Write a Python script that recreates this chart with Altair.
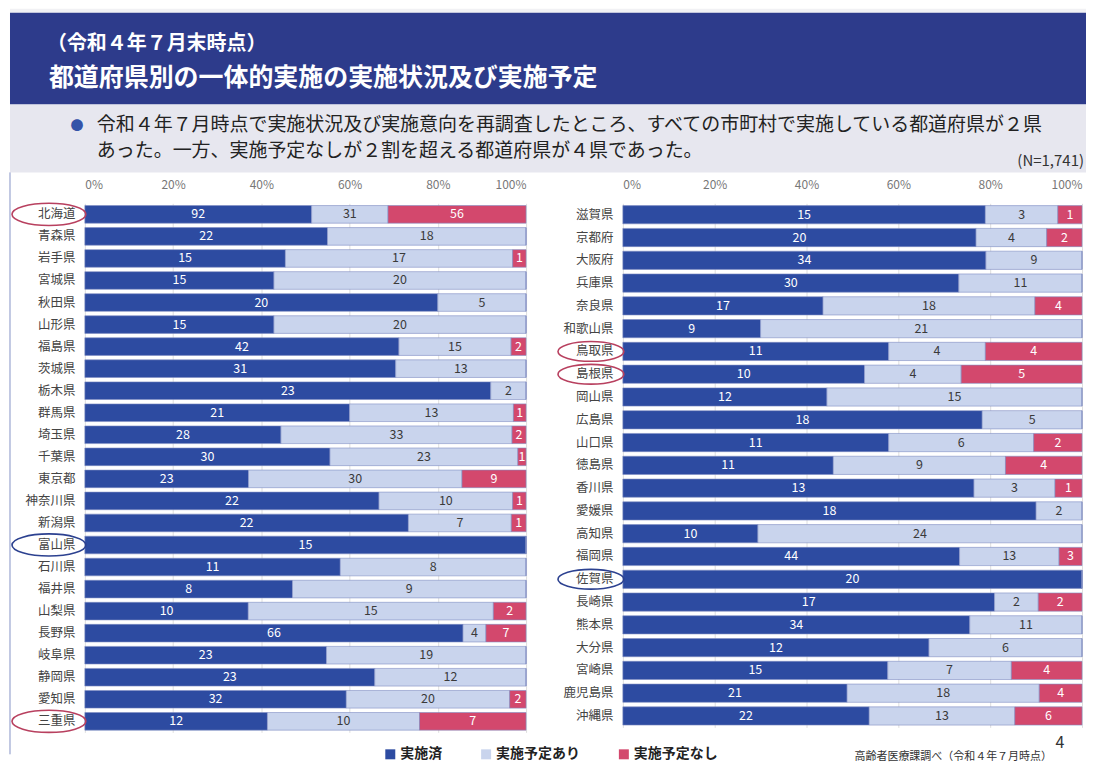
import altair as alt
import pandas as pd

FONT = "Noto Sans CJK JP"

cats = ["実施済", "実施予定あり", "実施予定なし"]
cat_colors = ["#2d4ba1", "#c9d4ed", "#d3486d"]

left_prefs = ["北海道", "青森県", "岩手県", "宮城県", "秋田県", "山形県", "福島県", "茨城県",
              "栃木県", "群馬県", "埼玉県", "千葉県", "東京都", "神奈川県", "新潟県", "富山県",
              "石川県", "福井県", "山梨県", "長野県", "岐阜県", "静岡県", "愛知県", "三重県"]
left_done = [92, 22, 15, 15, 20, 15, 42, 31, 23, 21, 28, 30, 23, 22, 22, 15, 11, 8, 10, 66, 23, 23, 32, 12]
left_plan = [31, 18, 17, 20, 5, 20, 15, 13, 2, 13, 33, 23, 30, 10, 7, 0, 8, 9, 15, 4, 19, 12, 20, 10]
left_none = [56, 0, 1, 0, 0, 0, 2, 0, 0, 1, 2, 1, 9, 1, 1, 0, 0, 0, 2, 7, 0, 0, 2, 7]

right_prefs = ["滋賀県", "京都府", "大阪府", "兵庫県", "奈良県", "和歌山県", "鳥取県", "島根県",
               "岡山県", "広島県", "山口県", "徳島県", "香川県", "愛媛県", "高知県", "福岡県",
               "佐賀県", "長崎県", "熊本県", "大分県", "宮崎県", "鹿児島県", "沖縄県"]
right_done = [15, 20, 34, 30, 17, 9, 11, 10, 12, 18, 11, 11, 13, 18, 10, 44, 20, 17, 34, 12, 15, 21, 22]
right_plan = [3, 4, 9, 11, 18, 21, 4, 4, 15, 5, 6, 9, 3, 2, 24, 13, 0, 2, 11, 6, 7, 18, 13]
right_none = [1, 2, 0, 0, 4, 0, 4, 5, 0, 0, 2, 4, 1, 0, 0, 3, 0, 2, 0, 0, 4, 4, 6]

left_rings = ["北海道", "富山県", "三重県"]
left_ring_kind = ["red", "blue", "red"]
right_rings = ["鳥取県", "島根県", "佐賀県"]
right_ring_kind = ["red", "red", "blue"]

title1 = "（令和４年７月末時点）"
title2 = "都道府県別の一体的実施の実施状況及び実施予定"
body1 = "令和４年７月時点で実施状況及び実施意向を再調査したところ、すべての市町村で実施している都道府県が２県"
body2 = "あった。一方、実施予定なしが２割を超える都道府県が４県であった。"
n_text = "(N=1,741)"
source_text = "高齢者医療課調べ（令和４年７月時点）"
page_no = "4"


def to_long(prefs, a, b, c):
    rows = []
    for p, x, y, z in zip(prefs, a, b, c):
        for i, (k, v) in enumerate(zip(cats, (x, y, z))):
            rows.append({"pref": p, "status": k, "value": v, "order": i})
    return pd.DataFrame(rows)


legend = alt.Legend(orient="none", legendX=299, legendY=740, direction="horizontal",
                    columns=3, title=None, symbolType="square", symbolSize=100,
                    symbolStrokeWidth=0, labelFontSize=14, labelFontWeight="bold",
                    labelColor="#222", gridAlign="each", columnPadding=37, labelOffset=3,
                    labelFont=FONT)


def panel(df, prefs, rings, kinds, width, height, ring_x, ring_size, extra=None):
    ysc = alt.Scale(paddingInner=0.2, paddingOuter=0.1)
    yaxis = alt.Axis(labelFontSize=12.5, labelColor="#444", labelPadding=10, ticks=False,
                     domain=False, labelFont=FONT, labelLimit=200)
    y = alt.Y("pref:N", sort=prefs, title=None, scale=ysc, axis=yaxis)
    xaxis = alt.Axis(orient="top", format="%", values=[0, 0.2, 0.4, 0.6, 0.8, 1.0],
                     labelColor="#777", labelFontSize=12, ticks=False, domain=False,
                     grid=True, gridColor="#d6d6d6", gridWidth=0.8, labelPadding=12,
                     labelFont=FONT)
    xsc = alt.Scale(domain=[0, 1], nice=False, zero=True)

    base = alt.Chart(df).transform_stack(
        stack="value", groupby=["pref"], as_=["v0", "v1"],
        sort=[alt.SortField("order")], offset="normalize")

    bars = base.mark_bar(stroke="#7f8dc2", strokeWidth=0.6).encode(
        y=y,
        x=alt.X("v0:Q", scale=xsc, axis=xaxis, title=None),
        x2="v1:Q",
        color=alt.Color("status:N", scale=alt.Scale(domain=cats, range=cat_colors), legend=legend),
    )
    labels = base.transform_filter("datum.value > 0").transform_calculate(
        mid="(datum.v0 + datum.v1) / 2").mark_text(fontSize=12.5, font=FONT).encode(
        y=y,
        x=alt.X("mid:Q", scale=xsc, axis=xaxis, title=None),
        text="value:Q",
        color=alt.condition("datum.status == '実施予定あり'", alt.value("#3a3a3a"), alt.value("white")),
    )
    ring_df = pd.DataFrame({"pref": rings, "ring": kinds})
    ellipse = "M -1 0 A 1 0.3 0 1 1 1 0 A 1 0.3 0 1 1 -1 0 Z"
    ring_layer = alt.Chart(ring_df).mark_point(
        shape=ellipse, filled=False, size=ring_size, strokeWidth=1.6, opacity=1).encode(
        y=y,
        x=alt.value(ring_x),
        stroke=alt.Stroke("ring:N", scale=alt.Scale(domain=["red", "blue"], range=["#b8405f", "#2c4190"]),
                          legend=None),
    )
    layers = [bars, labels, ring_layer]
    if extra is not None:
        layers += extra
    return alt.layer(*layers).properties(width=width, height=height)


hdr = pd.DataFrame({"k": [0]})
border = alt.Chart(hdr).mark_rule(color="#8593c6", strokeWidth=1).encode(
    x=alt.value(-75), y=alt.value(-31), y2=alt.value(552))

left = panel(to_long(left_prefs, left_done, left_plan, left_none), left_prefs,
             left_rings, left_ring_kind, 442, 530, -36, 74 * 74, extra=[border])

src = alt.Chart(hdr).mark_text(fontSize=11, color="#333", font=FONT).encode(
    x=alt.value(331), y=alt.value(555), text=alt.value(source_text))
pg = alt.Chart(hdr).mark_text(fontSize=16, color="#333", font=FONT).encode(
    x=alt.value(438), y=alt.value(541), text=alt.value(page_no))

right = panel(to_long(right_prefs, right_done, right_plan, right_none), right_prefs,
              right_rings, right_ring_kind, 460, 525, -32, 66 * 66, extra=[src, pg])

body = alt.hconcat(left, right, spacing=97, bounds="flush").resolve_scale(color="shared", stroke="shared")

header = alt.layer(
    alt.Chart(hdr).mark_rect(color="#f1f1f4").encode(
        x=alt.value(-75), x2=alt.value(1003), y=alt.value(0), y2=alt.value(4)),
    alt.Chart(hdr).mark_rect(color="#2d3b8b").encode(
        x=alt.value(-75), x2=alt.value(1003), y=alt.value(4), y2=alt.value(96)),
    alt.Chart(hdr).mark_rect(color="#e7e7ef").encode(
        x=alt.value(-75), x2=alt.value(1003), y=alt.value(96), y2=alt.value(164)),
    alt.Chart(hdr).mark_text(align="left", baseline="middle", fontSize=20, fontWeight="bold",
                             color="white", font=FONT).encode(
        x=alt.value(-38), y=alt.value(35), text=alt.value(title1)),
    alt.Chart(hdr).mark_text(align="left", baseline="middle", fontSize=25, fontWeight="bold",
                             color="white", font=FONT).encode(
        x=alt.value(-36), y=alt.value(69), text=alt.value(title2)),
    alt.Chart(hdr).mark_text(align="center", baseline="middle", fontSize=13,
                             color="#3553a8", font=FONT).encode(
        x=alt.value(-8), y=alt.value(118), text=alt.value("●")),
    alt.Chart(hdr).mark_text(align="left", baseline="middle", fontSize=19,
                             color="#222", font=FONT).encode(
        x=alt.value(12), y=alt.value(117), text=alt.value(body1)),
    alt.Chart(hdr).mark_text(align="left", baseline="middle", fontSize=19,
                             color="#222", font=FONT).encode(
        x=alt.value(12), y=alt.value(143), text=alt.value(body2)),
    alt.Chart(hdr).mark_text(align="right", baseline="middle", fontSize=15,
                             color="#333", font=FONT).encode(
        x=alt.value(1001), y=alt.value(153), text=alt.value(n_text)),
).properties(width=999, height=164)

chart = alt.vconcat(header, body, spacing=31, bounds="flush").resolve_scale(
    color="shared", stroke="shared").properties(padding=0, background="white").configure(
    font=FONT).configure_view(stroke=None)

chart.save("out.html", embed_options={"renderer": "svg", "actions": False})
